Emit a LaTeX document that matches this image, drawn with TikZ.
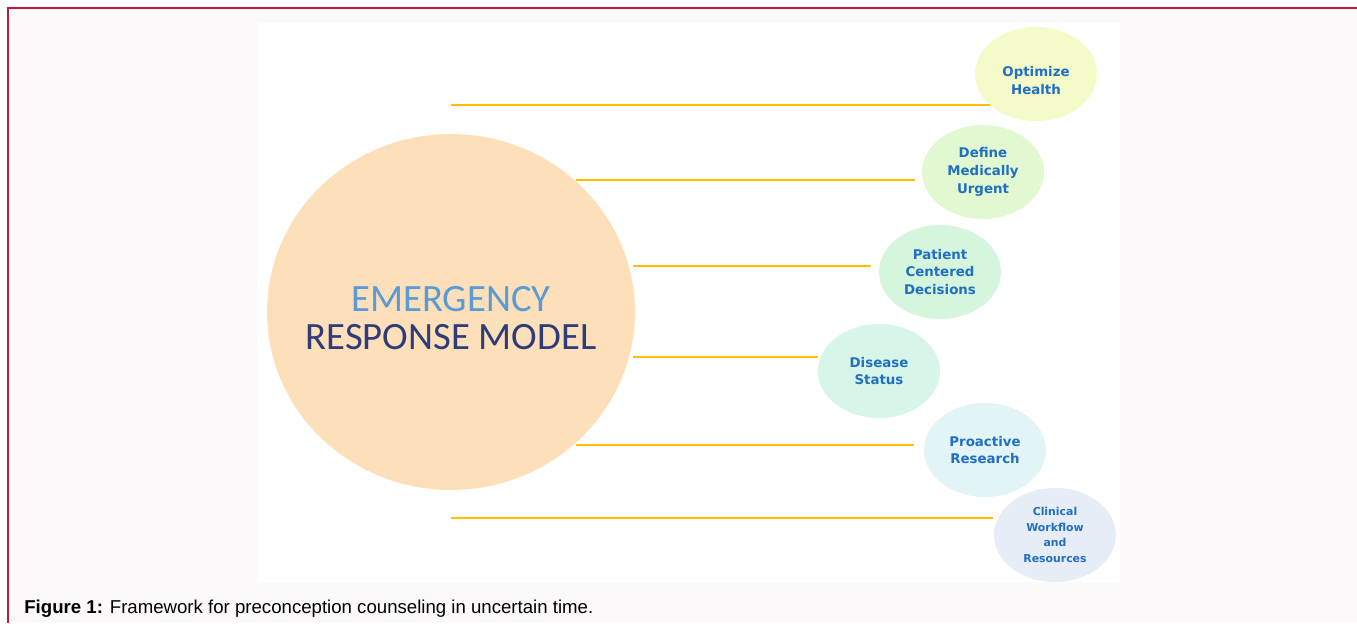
\documentclass[tikz,border=0pt]{standalone}
\usepackage{fontspec}
\setmainfont{Liberation Sans}
\newfontfamily\titlefont{Carlito}
\newfontfamily\boxfont{DejaVu Sans}
\usetikzlibrary{shapes.geometric}
\definecolor{frame_red}{HTML}{C4173F}
\definecolor{page_grey}{HTML}{FBF9FA}
\definecolor{erm_peach}{HTML}{FDDFB9}
\definecolor{erm_light}{HTML}{5B9BD5}
\definecolor{erm_dark}{HTML}{2E3C7A}
\definecolor{erm_gold}{HTML}{FFC000}
\definecolor{erm_text}{HTML}{1F6FC3}
\definecolor{bub_a}{HTML}{F5FAC9}
\definecolor{bub_b}{HTML}{E2F8D0}
\definecolor{bub_c}{HTML}{D5F5DC}
\definecolor{bub_d}{HTML}{D8F5E9}
\definecolor{bub_e}{HTML}{E2F4F6}
\definecolor{bub_f}{HTML}{E7EDF6}

\tikzset{
    bubble/.style={ellipse, inner sep=0pt, minimum width=2.44cm, minimum height=1.88cm,
        align=center, text=erm_text, font=\boxfont\bfseries\fontsize{7.6}{10.2}\selectfont},
    spoke/.style={draw=erm_gold, line width=1.1pt}
}

\begin{document}
\begin{tikzpicture}[x=0.02cm, y=-0.02cm]
    \useasboundingbox (0,0) rectangle (1357,623);
    \fill[page_grey] (8,8) rectangle (1357,623);
    \draw[frame_red, line width=1.4pt] (1357,8) -- (8,8) -- (8,623);
    \fill[white] (258,23) rectangle (1120,582);

    % model hub
    \node[ellipse, fill=erm_peach, inner sep=0pt, minimum width=7.36cm, minimum height=7.12cm] (hub) at (451,312) {};
    \node[align=center, font=\titlefont\fontsize{22}{21.5}\selectfont] (title) at (451,318)
        {\textcolor{erm_light}{EMERGENCY}\\\textcolor{erm_dark}{RESPONSE MODEL}};

    % outcomes
    \node[bubble, fill=bub_a] (health) at (1036,74) {\rule{0pt}{13pt}Optimize\\Health};
    \node[bubble, fill=bub_b] (urgent) at (983,172) {Define\\Medically\\Urgent};
    \node[bubble, fill=bub_c] (patient) at (940,272) {Patient\\Centered\\Decisions};
    \node[bubble, fill=bub_d] (disease) at (879,371) {Disease\\Status};
    \node[bubble, fill=bub_e] (research) at (985,450) {Proactive\\Research};
    \node[bubble, fill=bub_f, font=\boxfont\bfseries\fontsize{6.2}{8.8}\selectfont] (workflow) at (1055,535)
        {Clinical\\Workflow\\and\\Resources};

    \coordinate (s1) at (451,105);  \coordinate (e1) at (990,105);
    \coordinate (s2) at (576,180);  \coordinate (e2) at (915,180);
    \coordinate (s3) at (633,266);  \coordinate (e3) at (871,266);
    \coordinate (s4) at (633,357);  \coordinate (e4) at (818,357);
    \coordinate (s5) at (576,445);  \coordinate (e5) at (914,445);
    \coordinate (s6) at (451,518);  \coordinate (e6) at (993,518);

    \foreach \i in {1,...,6}
        \draw[spoke] (s\i) -- (e\i);

    \node[anchor=base west, inner sep=0pt, font=\fontsize{10.6}{12}\selectfont] (caption) at (24,613)
        {\textbf{Figure 1:} Framework for preconception counseling in uncertain time.};
\end{tikzpicture}
\end{document}
